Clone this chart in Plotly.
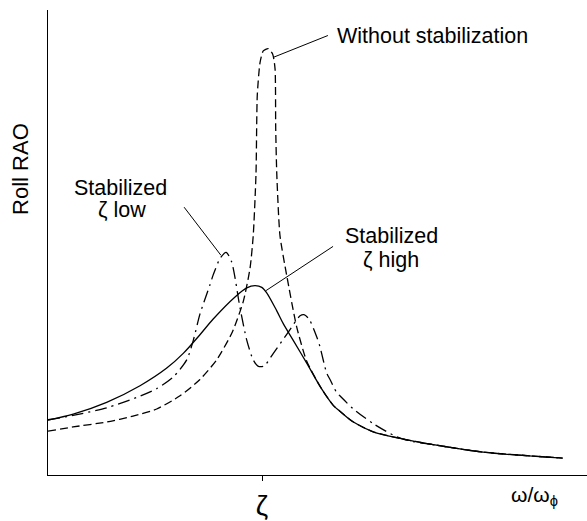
import plotly.graph_objects as go

# ---- data ----
# x: omega / omega_phi (zeta tick at 1.0); y: Roll RAO (arbitrary units)
high_x = [0.0, 0.118, 0.274, 0.430, 0.555, 0.632, 0.710, 0.772, 0.874, 0.929, 0.967, 0.999,
          1.022, 1.069, 1.100, 1.146, 1.209, 1.278, 1.333, 1.364, 1.427, 1.520, 1.645, 1.799,
          2.033, 2.405]
high_y = [0.56, 0.62, 0.74, 0.91, 1.09, 1.24, 1.43, 1.59, 1.815, 1.907, 1.93, 1.913,
          1.857, 1.673, 1.54, 1.373, 1.14, 0.88, 0.71, 0.65, 0.54, 0.44, 0.373, 0.31,
          0.233, 0.173]

none_x = [0.0, 0.117, 0.274, 0.397, 0.508, 0.617, 0.710, 0.788, 0.862, 0.913, 0.944, 0.959,
          0.972, 0.978, 0.991, 1.006, 1.029, 1.050, 1.061, 1.064, 1.069, 1.084, 1.115, 1.162,
          1.209, 1.278, 1.333, 1.364, 1.427, 1.520, 1.645, 1.799, 2.033, 2.405]
none_y = [0.447, 0.49, 0.54, 0.60, 0.673, 0.807, 0.973, 1.173, 1.46, 1.773, 2.107, 2.44,
          3.073, 3.873, 4.207, 4.323, 4.347, 4.29, 4.14, 3.54, 3.073, 2.44, 2.04, 1.51,
          1.16, 0.88, 0.71, 0.65, 0.54, 0.44, 0.373, 0.31, 0.233, 0.173]

low_x = [0.0, 0.117, 0.274, 0.414, 0.508, 0.586, 0.648, 0.679, 0.710, 0.757, 0.772, 0.804,
         0.832, 0.858, 0.897, 0.929, 0.959, 0.981, 1.009, 1.053, 1.123, 1.178, 1.196, 1.220,
         1.256, 1.271, 1.302, 1.318, 1.349, 1.364, 1.427, 1.520, 1.629, 1.707, 1.799, 2.033,
         2.405]
low_y = [0.563, 0.607, 0.685, 0.79, 0.88, 1.00, 1.173, 1.373, 1.64, 1.94, 2.04, 2.207,
         2.27, 2.173, 1.707, 1.373, 1.173, 1.11, 1.11, 1.24, 1.457, 1.623, 1.635, 1.59,
         1.407, 1.307, 1.04, 0.973, 0.84, 0.807, 0.673, 0.523, 0.39, 0.34, 0.31, 0.233,
         0.173]

tick_vals = [1.0]
tick_text = ["ζ"]

FONT = "Liberation Sans, Arial, sans-serif"
LW = 1.3

fig = go.Figure()
fig.add_trace(go.Scatter(x=none_x, y=none_y, mode="lines",
                         line=dict(color="black", width=LW, dash="8px,4px", shape="spline", smoothing=0.6),
                         showlegend=False, hoverinfo="skip"))
fig.add_trace(go.Scatter(x=low_x, y=low_y, mode="lines",
                         line=dict(color="black", width=LW, dash="12px,5px,2px,5px", shape="spline", smoothing=0.7),
                         showlegend=False, hoverinfo="skip"))
fig.add_trace(go.Scatter(x=high_x, y=high_y, mode="lines",
                         line=dict(color="black", width=LW, shape="spline", smoothing=0.9),
                         showlegend=False, hoverinfo="skip"))

# leader lines (data coords)
leaders = [((1.056, 4.26), (1.308, 4.48)),
           ((0.636, 2.73), (0.808, 2.24)),
           ((1.019, 1.88), (1.332, 2.33))]
for (x0, y0), (x1, y1) in leaders:
    fig.add_shape(type="line", xref="x", yref="y", x0=x0, y0=y0, x1=x1, y1=y1,
                  line=dict(color="black", width=1))

# label lines: (text, x-center, y-center) in data coords
labels = [("Without stabilization", 1.797, 4.48),
          ("Stabilized", 0.339, 2.93),
          ("ζ low", 0.348, 2.70),
          ("Stabilized", 1.605, 2.435),
          ("ζ high", 1.605, 2.19)]
for txt, x, y in labels:
    fig.add_annotation(x=x, y=y, xref="x", yref="y", text=txt, showarrow=False,
                       font=dict(family=FONT, size=21.5, color="black"),
                       xanchor="center", yanchor="middle", align="center")

fig.add_annotation(x=(534 - 48) / 539, y=-0.046, xref="paper", yref="paper",
                   text="ω/ω<sub>ϕ</sub>", showarrow=False,
                   font=dict(family=FONT, size=21, color="black"),
                   xanchor="center", yanchor="middle")
fig.add_annotation(x=(21 - 48) / 539, y=(484 - 172) / 474, xref="paper", yref="paper",
                   text="Roll RAO", showarrow=False, textangle=-90,
                   font=dict(family=FONT, size=22, color="black"),
                   xanchor="center", yanchor="middle")

fig.update_xaxes(range=[0, 539 / 214], showline=True, linecolor="black", linewidth=LW,
                 showgrid=False, zeroline=False, tickvals=tick_vals, ticktext=tick_text,
                 ticks="outside", ticklen=5, tickwidth=1.2, tickcolor="black",
                 tickfont=dict(family=FONT, size=28, color="black"))
fig.update_yaxes(range=[0, 4.74], showline=True, linecolor="black", linewidth=LW,
                 showgrid=False, zeroline=False, showticklabels=False, ticks="")

fig.update_layout(width=587, height=521, margin=dict(l=48, r=0, t=10, b=37),
                  plot_bgcolor="white", paper_bgcolor="white",
                  font=dict(family=FONT, color="black"))

fig.write_html("out.html")
